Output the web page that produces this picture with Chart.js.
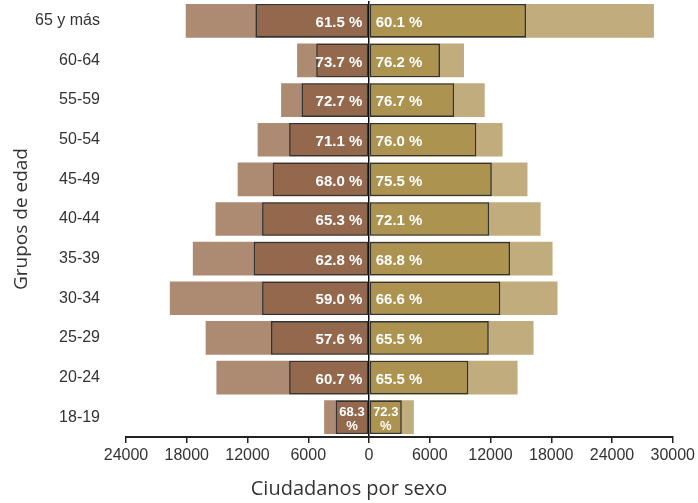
<!DOCTYPE html>
<html>
<head>
<meta charset="utf-8">
<script src="https://cdn.jsdelivr.net/npm/chart.js@4.4.1/dist/chart.umd.min.js"></script>
<style>
  html, body { margin: 0; padding: 0; background: #fff; }
  #wrap { width: 698px; height: 503px; position: relative; }
</style>
</head>
<body>
<div id="wrap"><canvas id="c"></canvas></div>
<script>
const categories = ['65 y más', '60-64', '55-59', '50-54', '45-49', '40-44', '35-39', '30-34', '25-29', '20-24', '18-19'];
const maleTotal = [18100, 7100, 8680, 11000, 12970, 15160, 17400, 19670, 16130, 15070, 4430];
const femaleTotal = [28140, 9380, 11430, 13190, 15650, 16950, 18130, 18620, 16250, 14670, 4430];
const maleVoters = [11220, 5215, 6660, 7890, 9510, 10560, 11390, 10560, 9680, 7890, 3290];
const femaleVoters = [15510, 7010, 8410, 10600, 12130, 11870, 13930, 12970, 11830, 9810, 3240];
const malePct = [61.5, 73.7, 72.7, 71.1, 68.0, 65.3, 62.8, 59.0, 57.6, 60.7, 68.3];
const femalePct = [60.1, 76.2, 76.7, 76.0, 75.5, 72.1, 68.8, 66.6, 65.5, 65.5, 72.3];
const xTicks = [-24000, -18000, -12000, -6000, 0, 6000, 12000, 18000, 24000, 30000];

const labelPlugin = {
  id: 'pctLabels',
  afterDatasetsDraw(chart) {
    const ctx = chart.ctx;
    const specs = [[0, malePct, -1], [1, femalePct, 1]];
    ctx.save();
    ctx.fillStyle = '#ffffff';
    ctx.textBaseline = 'middle';
    for (const [di, pcts, dir] of specs) {
      const meta = chart.getDatasetMeta(di);
      meta.data.forEach((bar, i) => {
        const txt = pcts[i].toFixed(1) + ' %';
        const w = Math.abs(bar.x - bar.base);
        ctx.font = 'bold 15px "Liberation Sans", sans-serif';
        const tw = ctx.measureText(txt).width;
        if (tw + 2 > w) {
          ctx.font = 'bold 13px "Liberation Sans", sans-serif';
          ctx.textAlign = 'center';
          const cx = (bar.x + bar.base) / 2;
          ctx.fillText(pcts[i].toFixed(1), cx, bar.y - 5);
          ctx.fillText('%', cx, bar.y + 9);
        } else if (dir < 0) {
          ctx.textAlign = 'right';
          ctx.fillText(txt, bar.base - 6, bar.y + 2);
        } else {
          ctx.textAlign = 'left';
          ctx.fillText(txt, bar.base + 6, bar.y + 2);
        }
      });
    }
    ctx.restore();
  }
};

new Chart(document.getElementById('c'), {
  type: 'bar',
  data: {
    labels: categories,
    datasets: [
      { label: 'Hombres votantes', data: maleVoters.map(v => -v), backgroundColor: '#94684C', borderColor: '#333333', borderWidth: 1.6, borderSkipped: false, grouped: false, order: 1 },
      { label: 'Mujeres votantes', data: femaleVoters, backgroundColor: '#AC9350', borderColor: '#333333', borderWidth: 1.6, borderSkipped: false, grouped: false, order: 1 },
      { label: 'Hombres', data: maleTotal.map(v => -v), backgroundColor: '#AD8A72', borderWidth: 0, grouped: false, order: 2 },
      { label: 'Mujeres', data: femaleTotal, backgroundColor: '#C1AC7E', borderWidth: 0, grouped: false, order: 2 }
    ]
  },
  options: {
    indexAxis: 'y',
    responsive: true,
    maintainAspectRatio: false,
    animation: false,
    devicePixelRatio: 1,
    layout: { padding: { left: 0, right: 0, top: 1, bottom: 0 } },
    datasets: { bar: { barPercentage: 0.85, categoryPercentage: 1.0 } },
    plugins: {
      legend: { display: false },
      tooltip: { enabled: false },
      title: {
        display: true,
        text: 'Ciudadanos por sexo',
        position: 'bottom',
        color: '#333333',
        font: { family: '"Open Sans", sans-serif', size: 20, weight: 'normal' },
        padding: { top: 3, bottom: 2 }
      }
    },
    scales: {
      x: {
        type: 'linear',
        min: -24000,
        max: 30000,
        afterBuildTicks(scale) { scale.ticks = xTicks.map(v => ({ value: v })); },
        afterFit(scale) { scale.height = 37; },
        ticks: {
          color: '#333333',
          font: { family: '"Liberation Sans", sans-serif', size: 16 },
          padding: 3,
          maxRotation: 0,
          autoSkip: false,
          callback: v => String(Math.abs(v))
        },
        grid: {
          z: 1,
          drawOnChartArea: true,
          color: c => (c.tick && c.tick.value === 0) ? '#111111' : 'rgba(0,0,0,0)',
          lineWidth: 1.5,
          tickColor: '#222222',
          tickWidth: 1.5,
          tickLength: 6
        },
        border: { display: true, color: '#222222', width: 2, z: 1 }
      },
      y: {
        afterFit(scale) { scale.width = 126; scale.paddingTop = 0; scale.paddingBottom = 0; },
        ticks: {
          color: '#333333',
          font: { family: '"Liberation Sans", sans-serif', size: 16 },
          padding: 0
        },
        grid: { display: true, drawOnChartArea: false, drawTicks: true, tickLength: 26, tickColor: 'rgba(0,0,0,0)', color: 'rgba(0,0,0,0)' },
        border: { display: false },
        title: {
          display: true,
          text: 'Grupos de edad',
          color: '#333333',
          font: { family: '"Open Sans", sans-serif', size: 19, weight: 'normal' },
          padding: { top: 10, bottom: 0 }
        }
      }
    }
  },
  plugins: [labelPlugin]
});
</script>
</body>
</html>
